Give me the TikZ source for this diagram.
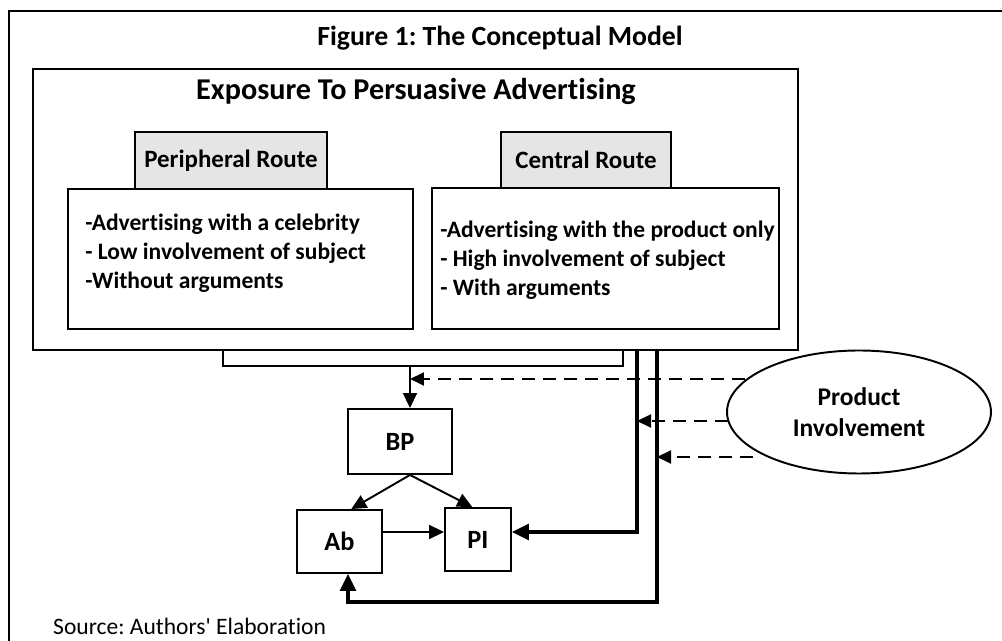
\documentclass[tikz,border=0pt]{standalone}
\usepackage{fontspec}
\setmainfont{Carlito}[Ligatures={NoCommon}]
\usetikzlibrary{arrows.meta, shapes.geometric}
\frenchspacing

\begin{document}
\begin{tikzpicture}[x=0.02cm, y=-0.02cm,
box/.style={rectangle, draw, line width=1.1pt, inner sep=0pt},
head/.style={box, fill=gray!20, font=\fontsize{14.2}{16}\selectfont\bfseries},
var/.style={box, font=\fontsize{15}{17}\selectfont\bfseries},
lst/.style={align=left, inner sep=0pt, anchor=north west, font=\fontsize{13.4}{16.3}\selectfont\bfseries},
arr/.style={-{Triangle[length=3mm, width=2.8mm]}, line width=1.1pt},
thk/.style={-{Triangle[length=3.4mm, width=3.2mm]}, line width=1.8pt},
dsh/.style={-{Triangle[length=2.8mm, width=2.6mm]}, line width=1.1pt, dash pattern=on 2.6mm off 1.6mm},
brk/.style={line width=0.9pt}
]
\useasboundingbox (0,0) rectangle (1002,641);
\clip (0,0) rectangle (1002,641);
\draw[line width=1.1pt] (1012,11) -- (9,11) -- (9,650);
\node[font=\fontsize{15.8}{18}\selectfont\bfseries] (title) at (500,38) {Figure 1: The Conceptual Model};

% persuasive advertising block
\node[box, minimum width=15.3cm, minimum height=5.62cm] (expo) at (415.5,209.5) {};
\node[font=\fontsize{17.2}{20}\selectfont\bfseries] (expoT) at (416,91) {Exposure To Persuasive Advertising};
\node[box, minimum width=6.9cm, minimum height=2.8cm] (perBody) at (240.5,259) {};
\node[head, minimum width=3.84cm, minimum height=1.14cm] (perHead) at (231,160.5) {Peripheral Route};
\node[lst] (perList) at (85,214) {-Advertising with a celebrity\\- Low involvement of subject\\-Without arguments};
\node[box, minimum width=6.94cm, minimum height=2.82cm] (cenBody) at (605.5,258.5) {};
\node[head, minimum width=3.4cm, minimum height=1.12cm] (cenHead) at (586,160) {Central Route};
\node[lst] (cenList) at (440,221) {-Advertising with the product only\\- High involvement of subject\\- With arguments};

% model
\node[var, minimum width=2.08cm, minimum height=1.3cm] (BP) at (400,441.5) {BP};
\node[var, minimum width=1.7cm, minimum height=1.26cm] (Ab) at (339.5,541.5) {Ab};
\node[var, minimum width=1.32cm, minimum height=1.26cm] (PI) at (478,539.5) {PI};
\node[ellipse, draw, line width=1.1pt, minimum width=5.28cm, minimum height=2.46cm, align=center,
  font=\fontsize{14.5}{17.5}\selectfont\bfseries] (PInv) at (859,412) {Product\\Involvement};
\node[anchor=west, font=\fontsize{13.4}{16}\selectfont] (src) at (47,626) {Source: Authors\textquotesingle\ Elaboration};

\coordinate (brL) at (223,366);
\coordinate (brR) at (623,366);
\coordinate (brM) at (410,366);
\coordinate (j1) at (637,532);
\coordinate (j2) at (657,602);
\coordinate (j3) at (348,602);
\coordinate (d1) at (745,379);
\coordinate (d2) at (728,421);
\coordinate (d3) at (753,457);

\draw[brk] (brL |- expo.south) -- (brL) -- (brR) -- (brR |- expo.south);
\draw[arr] (brM) -- (brM |- BP.north);
\draw[arr] (brM |- BP.south) -- (Ab.70);
\draw[arr] (brM |- BP.south) -- (PI.100);
\draw[arr] (Ab.east |- j1) -- (PI.west |- j1);
\draw[thk] (expo.south -| j1) -- (j1) -- (PI.east |- j1);
\draw[thk] (expo.south -| j2) -- (j2) -- (j3) -- (j3 |- Ab.south);
\draw[dsh] (d1) -- (d1 -| brM);
\draw[dsh] (d2) -- (d2 -| j1);
\draw[dsh] (d3) -- (d3 -| j2);
\end{tikzpicture}
\end{document}
